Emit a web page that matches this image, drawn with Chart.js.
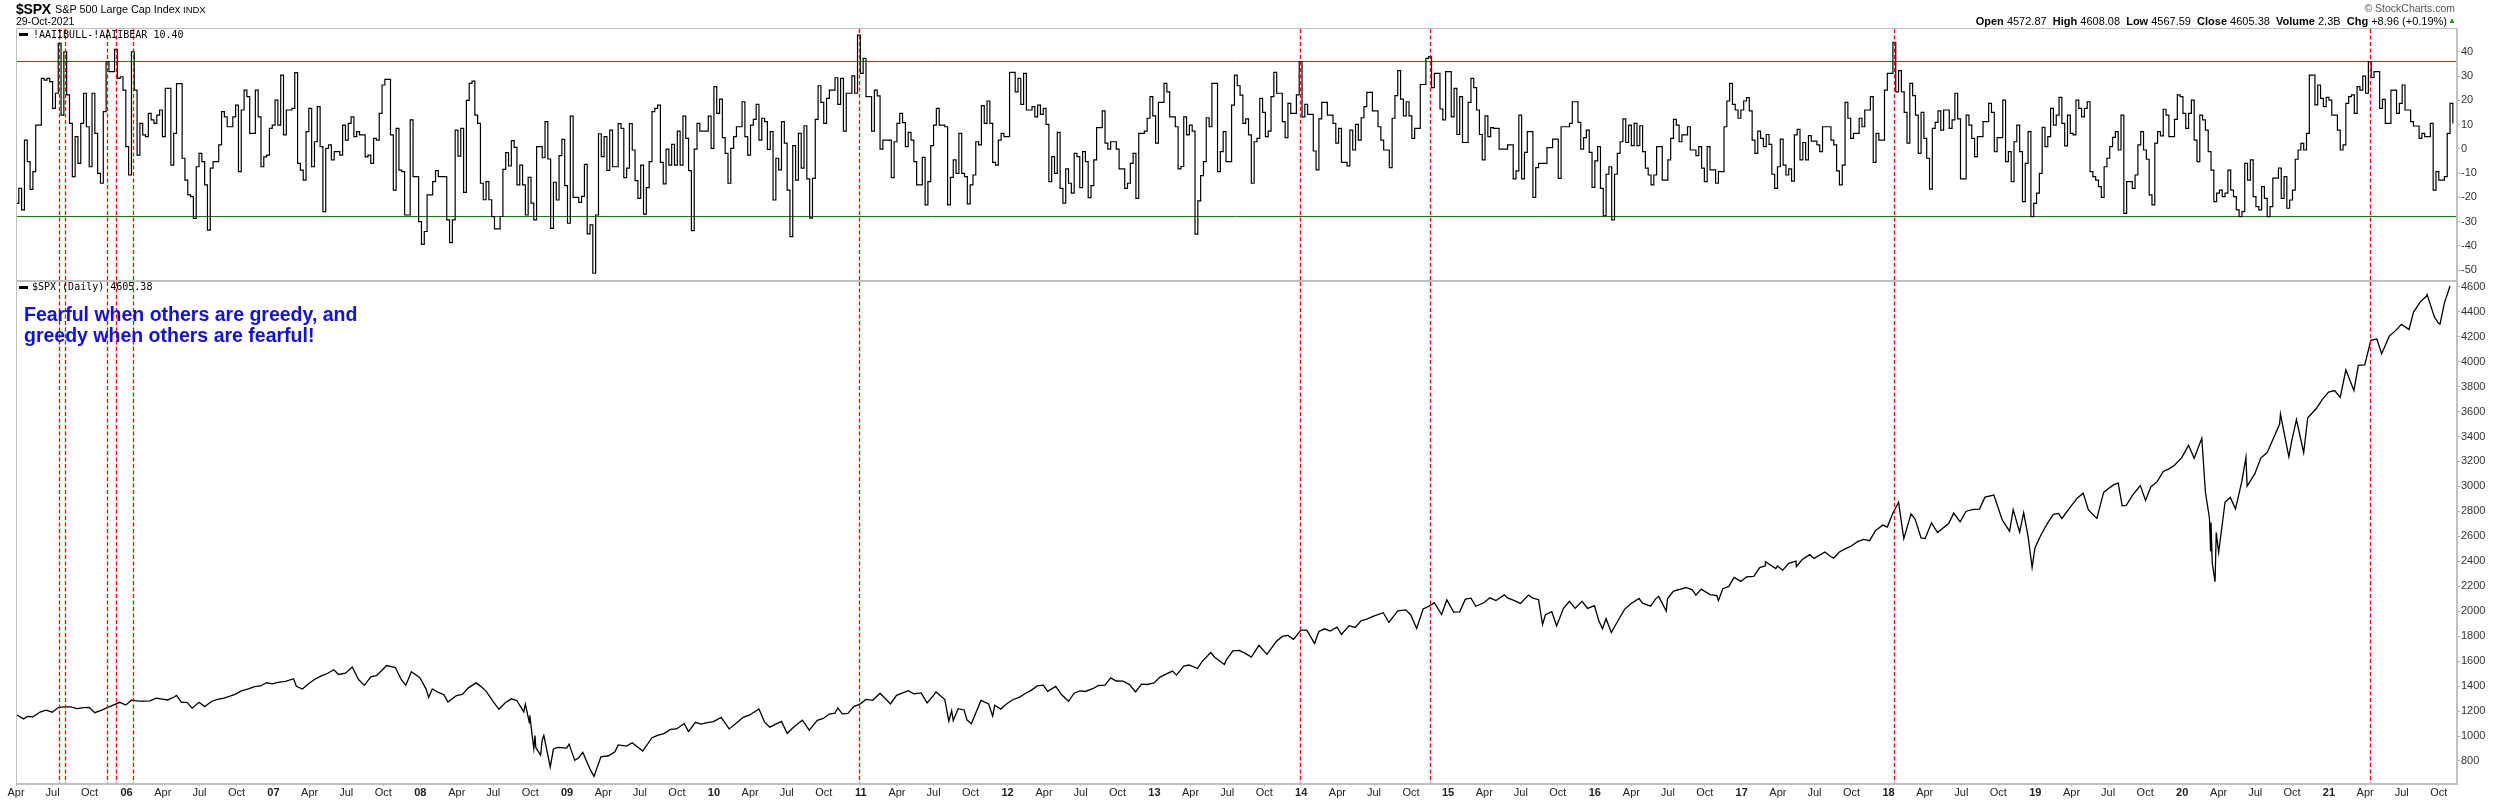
<!DOCTYPE html>
<html><head><meta charset="utf-8">
<script src="https://cdn.jsdelivr.net/npm/chart.js"></script>
<style>
html,body{margin:0;padding:0;background:#fff}
#wrap{position:relative;width:2500px;height:800px;overflow:hidden;font-family:"Liberation Sans",Arial,sans-serif;color:#000;background:#fff}
canvas{position:absolute;left:0;top:0}
.t{position:absolute;white-space:nowrap;line-height:1}
.mono{font-family:"DejaVu Sans Mono",monospace;font-size:10px}
.mk{position:absolute;width:9px;height:3px;background:#000}
</style></head><body><div id="wrap">
<canvas id="cTop" width="2500" height="800"></canvas>
<canvas id="cMain" width="2500" height="800"></canvas>

<div class="t" style="left:16px;top:1.5px;font-size:14px;font-weight:bold;letter-spacing:-0.2px">$SPX</div>
<div class="t" style="left:55px;top:4.2px;font-size:10.8px">S&amp;P 500 Large Cap Index</div>
<div class="t" style="left:183px;top:5.3px;font-size:9.5px">INDX</div>
<div class="t" style="left:16px;top:16.4px;font-size:10.5px">29-Oct-2021</div>
<div class="t" style="right:45px;top:3.4px;font-size:10.5px;color:#555">&copy; StockCharts.com</div>
<div class="t" style="right:53px;top:15.7px;font-size:11px"><b>Open</b> 4572.87&nbsp; <b>High</b> 4608.08&nbsp; <b>Low</b> 4567.59&nbsp; <b>Close</b> 4605.38&nbsp; <b>Volume</b> 2.3B&nbsp; <b>Chg</b> +8.96 (+0.19%)</div>
<div class="t" style="left:2448px;top:17px;font-size:8px;color:#1a8a1a">&#9650;</div>

<div class="mk" style="left:19px;top:33px"></div>
<div class="t mono" style="left:33px;top:29.8px">!AAIIBULL-!AAIIBEAR 10.40</div>
<div class="mk" style="left:19px;top:286px"></div>
<div class="t mono" style="left:32px;top:282.2px">$SPX (Daily) 4605.38</div>

<div class="t" style="left:24px;top:304.5px;font-size:19.5px;font-weight:bold;color:rgb(16,16,224)">Fearful when others are greedy, and</div>
<div class="t" style="left:24px;top:326px;font-size:19.5px;font-weight:bold;color:rgb(16,16,224)">greedy when others are fearful!</div>
</div>
<script>
// ---------------- DATA ----------------
// AAII Bull-Bear spread, readings as [weeks since 2005-04-01, spread]
const aaii2005 = [[0,-22.5],[1,-16.3],[2,-25.2],[3,3.6],[4,-5.3],[5,-16.7],[6,-9.4],[7,9.8],[9,29],[10,28.3],[11,29],[12,27.7],[13,16.7],[14,22.9],[15,43.5],[16,13.9],[17,40],[18,22.2],[19,10.5],[20,-11.5],[21,5],[22,-6],[23,10.5],[24,22.9],[25,9.1],[26,-7.4],[27,22.9],[28,6.4],[29,-10.1],[30,-14.2],[31,15.3],[32,35.9],[33,31.8],[35,41],[36,29],[37,29.7],[38,24.2],[39,0.9],[40,-10.8],[41,40],[42,24.2],[43,-2.6],[44,10.5],[45,5.7],[46,5],[47,14.6],[48,11.9],[49,10.5],[50,13.9],[51,16],[52,5],[53,24.9],[55,-6.7],[56,6.4],[57,26.9],[59,-3.9],[60,-12.9],[61,-19],[62,-19.7],[63,-28.7],[64,-7.4],[65,-1.9],[66,-5.3],[67,-14.9],[68,-33.5],[69,-8],[70,-5.3],[72,1.6],[73,15.3],[74,13.2],[75,9.1],[77,13.2],[78,18],[79,-9.4],[80,16],[81,24.2],[82,21.5],[83,6.4],[85,24.2],[86,13.2],[87,-7.4],[88,-3.3],[89,-2.6],[90,8.4],[91,9.8],[92,20.1],[93,9.8],[94,30.4],[95,5.7],[96,16],[98,16.7],[99,31.4],[100,-6],[101,-8.8],[102,-12.9],[103,7.1],[104,16.7],[105,-7.4],[106,2.9],[107,17.4],[108,0.9],[109,-25.9],[110,0.2],[111,1.6],[112,-4.6],[113,-1.2],[115,-2.6],[116,9.8],[117,3.6],[118,10.5],[119,13.2],[120,5],[121,7.1],[122,5.7],[124,-3.3],[125,-2.6],[126,-6],[127,4.3],[128,3.6],[129,14.6],[130,26.3],[131,28.6],[133,5.7],[134,-17],[135,8.4],[136,-8.8],[137,-9.4],[138,-27.3],[140,11.9],[141,-11.5],[143,-30],[144,-39.4],[145,-34.1],[146,-19],[148,-13.5],[149,-9],[150,-11.5],[153,-29.3],[154,-38.7],[155,-29.3],[156,7.7],[157,-3],[158,8.4],[159,-18],[160,20],[161,27],[162,27.9],[163,13.9],[164,10.5],[165,-14.2],[166,-21],[167,-13.5],[168,-21],[169,-28],[170,-33]];
const aaii2008 = [[172,-27.9],[173,-8.5],[174,-1.6],[175,-7.1],[176,3.4],[177,0.6],[178,-14.9],[179,-6.7],[180,-14.9],[181,-27.3],[182,-11.8],[183,-22.4],[184,-29.3],[185,0.9],[187,-3.7],[188,11.2],[189,-4.2],[190,-32.8],[191,-13.8],[192,-21.1],[193,-2.8],[194,3.9],[195,-15.2],[196,-30.7],[197,13.5],[198,-20],[200,-22.1],[201,-19.6],[202,-6.4],[203,-35.1],[204,-31.4],[205,-51.3],[206,-27.3],[207,6.2],[208,-3.2],[209,5],[210,-8.9],[211,7.7],[212,-7.4],[214,10.4],[215,8.4],[216,-11.9],[217,-8],[218,10.4],[219,-0.5],[220,-13.1],[221,-20.4],[222,-6.7],[223,-26.9],[224,-16],[225,-5.3],[226,15.3],[227,16.7],[228,18],[229,-5.6],[230,-14.5],[231,-0.1],[232,-6.7],[233,1.8],[234,-6.7],[235,7.3],[236,-6.7],[237,13.5],[238,4.3],[239,-9],[240,-33.7],[241,-0.1],[242,10.5],[243,7.3],[246,13.5],[247,0.2],[248,25.6],[249,14.6],[250,20.5],[251,4.6],[252,-1.9],[253,-14.2],[254,0.2],[255,5],[256,9.1],[258,19.4],[259,5],[260,-2.6],[261,9.8],[262,12.1],[263,18.3],[264,3.6],[265,12.6],[266,11.2],[267,-0.2],[268,7.1],[269,-21.1],[270,-3.9],[271,-8.7],[272,11.2],[273,2.3],[274,-17],[275,-36.2],[276,1.3],[277,-12.9],[278,6.4],[279,-8],[280,9.5],[281,-12.4],[282,-28.6],[283,-12.2],[284,12.1],[285,26],[286,19.1],[287,10.5],[288,20.8],[289,24.2],[291,29.3],[292,18.3],[293,29],[294,7.3],[295,22.9],[297,30.1],[298,22.9],[299,46.9],[300,31.1],[301,37.3],[302,21.5],[304,7.3],[305,24.2],[306,21.8],[307,-0.1],[308,3.6],[311,-11.9],[312,2.9],[313,10.5],[314,14.6],[315,10.8],[316,0.9],[317,6.8],[318,3.6],[319,-5.3],[320,-14.9],[322,-3.5],[323,-23.1],[324,-13.5],[325,1.3],[326,9.8],[327,16.7],[328,9.8],[330,9.1],[331,-23.1],[332,-11.8],[333,-4.6],[334,-10.1],[335,6.4],[336,-10.1],[337,-11.5],[338,-22.7],[339,-14.9],[340,-10.8],[341,2.9],[342,1.6],[343,17.8],[344,10.5],[345,19.7],[346,10.5],[347,-5.6],[348,-6.7],[349,3.6]];
const aaii2011 = [[350,6.4],[351,5],[353,31.5],[355,23.5],[356,29],[357,18.3],[358,31.1],[359,16],[361,17.4],[362,13.2],[363,18],[364,14.2],[365,16.7],[366,10.1],[367,-13.5],[368,-3.2],[369,-10.1],[370,6.8],[371,-16.3],[372,-22.4],[373,-8.3],[374,-14.2],[375,-18.3],[376,-1.9],[377,-3.2],[378,-16],[379,-1.2],[380,-5.3],[381,-20.1],[382,-15.2],[383,-4.6],[384,8.7],[386,15.6],[387,2.3],[388,-0.1],[389,2.9],[391,-0.1],[392,-8.3],[394,-16.3],[395,-14.2],[396,-6],[397,-1.9],[398,-20.4],[399,6.4],[401,7.3],[402,12.6],[403,21.5],[404,13.6],[405,2.3],[406,19.1],[408,27],[409,23.5],[410,13.2],[412,9.1],[413,-8.3],[414,-7.3],[415,13.2],[416,5.7],[417,9.8],[418,7.3],[419,-35.2],[420,-21.5],[421,-11.1],[422,-5.3],[423,12.8],[424,9.1],[425,27],[427,-9.4],[428,-1.2],[429,7.1],[430,-5.3],[432,18],[433,30.4],[434,26],[435,22.1],[436,10.5],[437,12.3],[438,5.7],[439,-14.2],[440,2.9],[441,4.3],[442,20.8],[443,15],[444,5],[445,7.3],[446,21.5],[447,31.5],[448,22.9],[450,11.2],[451,4.6],[452,18.7],[453,14.6],[455,22.2],[456,35.9],[457,13.2],[458,18.3],[459,14.2],[461,-0.9],[462,-8.7],[463,12.3],[464,19.1],[466,13.9],[468,10.5],[469,2.3],[470,8.4],[471,-5.6],[473,-7],[474,7.7],[475,-0.5],[476,10.1],[477,3.6],[478,12.8],[479,17.4],[480,23.3],[482,15.6],[484,9.1],[485,3.6],[486,-0.5],[488,-7.8],[489,12.6],[490,21.9],[491,32.2],[492,20.5],[493,13.6],[494,19.4],[495,13.6],[496,4.3],[497,8.4],[499,26.5],[501,37.3],[502,38],[503,25.2],[504,31.1],[506,16.4],[507,11.9],[508,31.8],[510,13.2],[511,24.9],[512,5.9],[513,21.5],[514,2.6],[516,19.1],[517,29],[518,25.2],[519,16],[520,5.9],[521,-4.6],[522,13.6],[523,5],[524,8.7],[525,8.4],[527,-0.1]];
const aaii2015 = [[530,1.6],[532,-12.4],[533,-9.1],[534,13.9],[535,-12.4],[536,-1.5],[537,7.1],[539,-20],[540,-7.8],[541,-6],[544,0.5],[546,4],[548,-12.2],[549,9.1],[552,10.5],[553,19.4],[555,10.9],[556,-0.1],[557,4.6],[558,7.7],[559,-1.5],[560,-15.9],[561,-5],[562,0.9],[563,-16.3],[564,-27.6],[565,-10.5],[566,-7.4],[567,-29.3],[568,-10.5],[569,-1.9],[570,2.9],[571,12.3],[572,2.6],[573,9.8],[574,1.3],[575,10.5],[576,1.3],[577,9.5],[578,-1.2],[579,-8],[580,-10.8],[581,-14.9],[582,-10.8],[583,0.9],[585,-12.9],[587,-4.6],[588,4.3],[589,12.1],[590,9.8],[591,2.9],[592,5.7],[594,9.1],[595,-0.5],[597,-2.8],[598,0.9],[599,-8],[600,-13.5],[601,0.9],[602,-8.7],[604,-14.2],[605,-9.4],[607,9.1],[608,19.7],[609,27],[610,18.3],[611,16],[612,12.6],[613,16],[614,19.7],[615,21.1],[616,15.6],[617,3.6],[618,-1.9],[619,7.3],[620,4.3],[621,0.9],[622,5.9],[623,1.8],[624,-10.5],[625,-16.3],[626,-7.4],[627,4],[628,-6.7],[629,-10.8],[630,-8.3],[631,-13.3],[632,5.7],[633,8],[634,-4.6],[635,2.6],[636,-4.6],[637,5.4],[638,3.2],[640,1.6],[641,-1.2],[642,9.1],[645,3.6],[646,1.6],[647,-9.1],[648,-14.9],[649,-6.7],[650,19.1],[651,12.6],[652,4.3],[653,6.4],[655,12.6],[656,9.1],[657,16],[659,21.5],[660,-5.6],[661,6.4],[662,3.6],[664,24.2],[665,31.1],[667,43.9],[668,23.5],[669,32.2],[670,23.5],[671,15],[672,2.3],[673,27],[674,21.9],[675,13.9],[676,-1.9],[677,15],[678,4.3],[679,-3.9],[680,-16.6],[681,8.4],[682,10.9],[683,15.6],[684,7.7],[685,16],[687,8.4],[688,11.9],[689,22.9],[690,12.3],[691,-12.4],[693,13.9],[694,9.8],[695,4.3],[696,-3.2],[697,5],[699,11.2],[701,18.7],[702,15],[703,-1.2],[704,4.6]];
const aaii2018 = [[706,20.1],[707,-5.3],[708,-1.2],[709,-13.5],[710,2.9],[711,9.8],[712,-1.2],[713,-21.8],[714,-6],[715,7.1],[716,-28],[717,-22.5],[718,-18.3],[719,-10.1],[720,8.8],[721,0.9],[722,5],[723,16.7],[724,9.8],[725,13.9],[726,21.2],[727,10.5],[728,1.2],[729,13.9],[730,6.4],[731,5.7],[732,20.1],[733,16.7],[734,13.2],[735,16.7],[736,19.4],[737,-9.4],[738,-11.5],[739,-12.9],[740,-15.6],[741,-20],[742,-7.4],[743,-3.9],[744,0.9],[745,4.7],[746,7.1],[747,-0.5],[748,13.9],[749,-26.6],[750,-13.5],[752,-16.3],[753,-10.8],[754,1.6],[755,7.1],[756,-0.5],[757,-4.3],[758,-19],[759,-23.1],[760,2.3],[761,7.1],[762,5.3],[763,16.3],[764,13.9],[765,5],[767,12.1],[768,22.2],[769,21.5],[770,14.6],[771,8.4],[772,14.6],[773,20.1],[774,3.6],[775,-5.3],[776,13.9],[777,11.9],[778,7.7],[779,-1.2],[780,-8.8],[781,-21.8],[782,-18.3],[783,-17],[784,-19.7],[785,-18.3],[786,-8.8],[787,-17],[788,-19.7],[789,-25.2],[790,-28],[791,-25.9],[792,-6],[793,-12.9],[794,-4.6],[795,-19.7],[796,-23.8],[797,-25.2],[798,-15.6],[799,-20.4],[800,-28],[801,-23.8],[802,-12.1],[804,-8],[805,-20.4],[806,-11.5],[807,-24.5],[808,-21.1],[809,-17],[810,-4.3],[811,-0.5],[812,2.2],[813,-0.5],[814,6.4],[815,30.4],[817,18.1],[818,26.3],[819,20.8],[820,17.4],[821,21.2],[822,20.1],[823,13.9],[825,7.7],[826,-0.5],[827,1.6],[828,18.7],[829,21.5],[830,22.2],[831,14.6],[832,25.6],[833,24.2],[834,30],[835,22.9],[836,35.9],[837,29.4],[838,31.8],[840,16.7],[841,20.4],[842,10.5],[844,24.2],[846,14.6],[847,18.7],[848,26.3],[849,16],[851,11.2],[852,9.4],[854,4.3],[855,6.4],[856,5],[858,10.5],[859,-17],[860,-9.4],[861,-12.9],[863,-11.5],[864,6.4],[865,18.7],[866,10.4]];

// Weeks where the spread broke above the upper band (red dashed markers)
const signalWeeks = [15,17,32,35,41,299,456,502,667,836];
const upperBand = 36.0, lowerBand = -27.9;

// S&P 500 closes [date, value]
const spx2005_08 = [['2005-04-01',1172],['2005-04-20',1137],['2005-04-29',1157],['2005-05-13',1154],['2005-05-31',1192],['2005-06-15',1207],['2005-06-30',1191],['2005-07-15',1228],['2005-07-29',1234],['2005-08-15',1233],['2005-08-31',1220],['2005-09-15',1228],['2005-09-30',1229],['2005-10-14',1187],['2005-10-31',1207],['2005-11-15',1229],['2005-11-30',1249],['2005-12-15',1270],['2005-12-30',1248],
['2006-01-13',1287],['2006-01-31',1280],['2006-02-15',1280],['2006-02-28',1281],['2006-03-15',1303],['2006-03-31',1295],['2006-04-13',1289],['2006-04-28',1311],['2006-05-05',1325],['2006-05-17',1270],['2006-05-31',1270],['2006-06-13',1223],['2006-06-30',1270],['2006-07-14',1236],['2006-07-31',1277],['2006-08-15',1293],['2006-08-31',1304],['2006-09-15',1319],['2006-09-29',1336],['2006-10-13',1362],['2006-10-31',1378],['2006-11-15',1396],['2006-11-30',1401],['2006-12-15',1427],['2006-12-29',1418],
['2007-01-12',1430],['2007-01-31',1438],['2007-02-20',1459],['2007-02-27',1399],['2007-03-14',1377],['2007-03-30',1421],['2007-04-13',1453],['2007-04-30',1482],['2007-05-15',1501],['2007-05-31',1531],['2007-06-12',1493],['2007-06-29',1503],['2007-07-16',1553],['2007-07-31',1455],['2007-08-15',1406],['2007-08-31',1474],['2007-09-14',1484],['2007-09-28',1527],['2007-10-09',1565],['2007-10-31',1549],['2007-11-15',1451],['2007-11-26',1407],['2007-12-10',1515],['2007-12-31',1468]];
const spx2008_12 = [['2008-01-15',1380],['2008-01-22',1310],['2008-01-31',1378],['2008-02-15',1349],['2008-02-29',1331],['2008-03-10',1273],['2008-03-31',1323],['2008-04-15',1334],['2008-04-30',1386],['2008-05-19',1426],['2008-05-30',1400],['2008-06-13',1360],['2008-06-30',1280],['2008-07-15',1214],['2008-07-31',1267],['2008-08-15',1298],['2008-08-29',1283],['2008-09-15',1193],['2008-09-19',1255],['2008-09-29',1106],['2008-09-30',1166],['2008-10-10',899],['2008-10-13',1003],['2008-10-15',908],['2008-10-27',848],['2008-10-31',969],['2008-11-04',1005],['2008-11-20',752],['2008-11-28',896],['2008-12-08',909],['2008-12-31',903],
['2009-01-06',935],['2009-01-20',805],['2009-01-30',826],['2009-02-09',870],['2009-02-27',735],['2009-03-09',677],['2009-03-26',833],['2009-04-14',842],['2009-04-30',873],['2009-05-08',929],['2009-05-29',919],['2009-06-12',946],['2009-07-08',880],['2009-07-31',987],['2009-08-14',1005],['2009-08-31',1021],['2009-09-15',1053],['2009-09-30',1057],['2009-10-19',1098],['2009-10-30',1036],['2009-11-16',1110],['2009-11-30',1096],['2009-12-15',1107],['2009-12-31',1115],
['2010-01-19',1150],['2010-02-08',1057],['2010-02-26',1104],['2010-03-15',1150],['2010-03-31',1169],['2010-04-23',1217],['2010-05-07',1111],['2010-05-20',1071],['2010-05-31',1089],['2010-06-18',1117],['2010-07-02',1022],['2010-07-16',1065],['2010-07-30',1102],['2010-08-09',1127],['2010-08-26',1047],['2010-09-15',1125],['2010-09-30',1141],['2010-10-15',1176],['2010-10-29',1183],['2010-11-05',1225],['2010-11-16',1178],['2010-11-30',1181],['2010-12-15',1236],['2010-12-31',1258],
['2011-01-14',1293],['2011-01-31',1286],['2011-02-18',1343],['2011-03-16',1257],['2011-03-31',1326],['2011-04-29',1364],['2011-05-13',1338],['2011-05-31',1345],['2011-06-15',1266],['2011-06-30',1321],['2011-07-07',1353],['2011-07-29',1292],['2011-08-08',1119],['2011-08-15',1204],['2011-08-19',1124],['2011-08-31',1219],['2011-09-15',1209],['2011-09-22',1130],['2011-10-03',1099],['2011-10-27',1285],['2011-11-15',1257],['2011-11-25',1159],['2011-11-30',1247],['2011-12-15',1216],['2011-12-30',1258],
['2012-01-13',1289],['2012-01-31',1312],['2012-02-15',1343],['2012-02-29',1366],['2012-03-15',1402],['2012-03-30',1408],['2012-04-10',1358],['2012-04-30',1398],['2012-05-15',1330],['2012-06-01',1278],['2012-06-15',1343],['2012-06-29',1362],['2012-07-13',1357],['2012-07-31',1379],['2012-08-15',1405],['2012-08-31',1407],['2012-09-14',1466],['2012-09-28',1441],['2012-10-15',1440],['2012-10-31',1412],['2012-11-15',1353],['2012-11-30',1416],['2012-12-14',1413],['2012-12-31',1426]];
const spx2013_17 = [['2013-01-15',1472],['2013-01-31',1498],['2013-02-15',1520],['2013-02-25',1488],['2013-03-15',1560],['2013-03-28',1569],['2013-04-18',1541],['2013-04-30',1598],['2013-05-21',1669],['2013-05-31',1631],['2013-06-24',1573],['2013-06-28',1606],['2013-07-15',1682],['2013-07-31',1686],['2013-08-15',1662],['2013-08-30',1633],['2013-09-18',1726],['2013-09-30',1682],['2013-10-08',1655],['2013-10-31',1757],['2013-11-15',1798],['2013-11-29',1806],['2013-12-13',1775],['2013-12-31',1848],
['2014-01-15',1848],['2014-02-03',1742],['2014-02-14',1838],['2014-02-28',1859],['2014-03-14',1841],['2014-03-31',1872],['2014-04-11',1815],['2014-04-30',1884],['2014-05-15',1870],['2014-05-30',1924],['2014-06-13',1937],['2014-06-30',1960],['2014-07-24',1988],['2014-08-07',1910],['2014-08-29',2003],['2014-09-18',2011],['2014-09-30',1972],['2014-10-15',1862],['2014-10-31',2018],['2014-11-14',2039],['2014-11-28',2068],['2014-12-16',1973],['2014-12-29',2091],
['2015-01-15',1993],['2015-01-30',1995],['2015-02-13',2097],['2015-02-27',2105],['2015-03-11',2040],['2015-03-31',2068],['2015-04-15',2107],['2015-04-30',2086],['2015-05-21',2131],['2015-05-29',2107],['2015-06-15',2085],['2015-06-30',2063],['2015-07-20',2129],['2015-07-31',2104],['2015-08-14',2092],['2015-08-24',1893],['2015-08-31',1972],['2015-09-16',1996],['2015-09-28',1882],['2015-10-15',2024],['2015-10-30',2079],['2015-11-13',2023],['2015-11-30',2080],['2015-12-14',2022],['2015-12-31',2044],
['2016-01-11',1923],['2016-01-20',1859],['2016-01-29',1940],['2016-02-11',1829],['2016-02-29',1932],['2016-03-15',2015],['2016-03-31',2060],['2016-04-20',2102],['2016-04-29',2065],['2016-05-19',2040],['2016-05-31',2097],['2016-06-08',2119],['2016-06-27',2001],['2016-06-30',2099],['2016-07-15',2162],['2016-07-29',2174],['2016-08-15',2190],['2016-08-31',2171],['2016-09-09',2128],['2016-09-22',2177],['2016-10-14',2133],['2016-10-31',2126],['2016-11-04',2085],['2016-11-15',2180],['2016-11-30',2199],['2016-12-13',2271],['2016-12-30',2239],
['2017-01-13',2275],['2017-01-31',2279],['2017-02-15',2349],['2017-02-28',2364],['2017-03-01',2396],['2017-03-27',2342],['2017-03-31',2363],['2017-04-13',2329],['2017-04-28',2384],['2017-05-16',2401],['2017-05-17',2357],['2017-05-31',2412],['2017-06-19',2453],['2017-06-30',2423],['2017-07-27',2475],['2017-08-10',2438],['2017-08-18',2425],['2017-08-31',2472],['2017-09-15',2500],['2017-09-29',2519],['2017-10-16',2557],['2017-10-31',2575],['2017-11-15',2565],['2017-11-30',2648],['2017-12-18',2690],['2017-12-29',2674]];
const spx2018_21 = [['2018-01-12',2786],['2018-01-26',2873],['2018-02-08',2581],['2018-02-26',2780],['2018-03-08',2739],['2018-03-23',2588],['2018-04-02',2582],['2018-04-18',2708],['2018-05-03',2630],['2018-05-31',2705],['2018-06-12',2786],['2018-06-28',2716],['2018-07-13',2801],['2018-07-31',2816],['2018-08-15',2818],['2018-08-29',2914],['2018-09-20',2931],['2018-10-11',2729],['2018-10-29',2641],['2018-11-07',2814],['2018-11-23',2633],['2018-12-03',2790],['2018-12-14',2600],['2018-12-24',2351],['2018-12-31',2507],
['2019-01-15',2611],['2019-01-31',2704],['2019-02-15',2776],['2019-02-28',2784],['2019-03-08',2743],['2019-03-29',2834],['2019-04-15',2906],['2019-04-30',2946],['2019-05-13',2812],['2019-05-31',2752],['2019-06-03',2744],['2019-06-20',2954],['2019-07-15',3014],['2019-07-26',3026],['2019-08-05',2845],['2019-08-15',2848],['2019-08-30',2926],['2019-09-19',3006],['2019-10-02',2888],['2019-10-15',2996],['2019-10-31',3038],['2019-11-15',3120],['2019-11-29',3141],['2019-12-13',3169],['2019-12-31',3231],
['2020-01-17',3330],['2020-01-31',3226],['2020-02-19',3386],['2020-02-28',2954],['2020-03-09',2747],['2020-03-12',2481],['2020-03-13',2711],['2020-03-16',2386],['2020-03-23',2237],['2020-03-26',2631],['2020-04-01',2470],['2020-04-17',2875],['2020-04-30',2912],['2020-05-13',2820],['2020-05-29',3044],['2020-06-08',3232],['2020-06-11',3002],['2020-06-30',3100],['2020-07-15',3227],['2020-07-31',3271],['2020-08-14',3373],['2020-08-31',3500],['2020-09-02',3580],['2020-09-23',3237],['2020-09-30',3363],['2020-10-12',3535],['2020-10-30',3270],['2020-11-09',3550],['2020-11-30',3622],['2020-12-15',3695],['2020-12-31',3756],
['2021-01-15',3768],['2021-01-29',3714],['2021-02-12',3934],['2021-03-04',3768],['2021-03-15',3969],['2021-03-31',3973],['2021-04-15',4170],['2021-04-30',4181],['2021-05-12',4063],['2021-05-31',4204],['2021-06-15',4246],['2021-06-30',4298],['2021-07-19',4258],['2021-07-30',4395],['2021-08-16',4479],['2021-08-31',4523],['2021-09-02',4537],['2021-09-20',4358],['2021-09-30',4308],['2021-10-04',4300],['2021-10-15',4471],['2021-10-29',4605]];

// Axis ticks / labels
const xTickLabels = ['Apr','Jul','Oct','06','Apr','Jul','Oct','07','Apr','Jul','Oct','08','Apr','Jul','Oct','09','Apr','Jul','Oct','10','Apr','Jul','Oct','11','Apr','Jul','Oct','12','Apr','Jul','Oct','13','Apr','Jul','Oct','14','Apr','Jul','Oct','15','Apr','Jul','Oct','16','Apr','Jul','Oct','17','Apr','Jul','Oct','18','Apr','Jul','Oct','19','Apr','Jul','Oct','20','Apr','Jul','Oct','21','Apr','Jul','Oct'];
const topTicks = [40,30,20,10,0,-10,-20,-30,-40,-50];
const mainTicks = [4600,4400,4200,4000,3800,3600,3400,3200,3000,2800,2600,2400,2200,2000,1800,1600,1400,1200,1000,800];

// ---------------- HELPERS ----------------
const BASE = Date.UTC(2005,3,1);
function dateToYear(ms){ const d=new Date(ms); const y=d.getUTCFullYear(); const s=Date.UTC(y,0,1), e=Date.UTC(y+1,0,1); return y+(ms-s)/(e-s); }
function weekToYear(w){ return dateToYear(BASE + w*7*86400000); }
function isoToYear(s){ const [y,m,d]=s.split('-').map(Number); return dateToYear(Date.UTC(y,m-1,d)); }
const xMin = weekToYear(0), xMax = 2021.872;
const xTickValues = xTickLabels.map((_,i)=>dateToYear(Date.UTC(2005,3+3*i,1)));

const aaiiPts = [...aaii2005,...aaii2008,...aaii2011,...aaii2015,...aaii2018].map(([w,v])=>({x:weekToYear(w),y:v}));
const spxPts = [...spx2005_08,...spx2008_12,...spx2013_17,...spx2018_21].map(([d,v])=>({x:isoToYear(d),y:v}));

const FONT = 'Liberation Sans, Arial, sans-serif';

const framePlugin = { id:'frame', afterDraw(chart){
  const {ctx, chartArea:a} = chart; ctx.save(); ctx.strokeStyle='#c0c0c0'; ctx.lineWidth=1;
  ctx.strokeRect(a.left+0.5, a.top+0.5, a.right-a.left-1, a.bottom-a.top-1); ctx.restore(); } };
const signalPlugin = { id:'signals', afterDatasetsDraw(chart){
  const {ctx, chartArea:a, scales:{x}} = chart; ctx.save(); ctx.strokeStyle='#ff0000'; ctx.lineWidth=1.3; ctx.setLineDash([4,2.5]);
  signalWeeks.forEach(w=>{ const px=Math.round(x.getPixelForValue(weekToYear(w+0.4)))+0.5; ctx.beginPath(); ctx.moveTo(px,a.top+1); ctx.lineTo(px,a.bottom); ctx.stroke(); });
  ctx.restore(); } };

function yAxis(min,max,ticks){ return { position:'right', min, max,
  afterBuildTicks:s=>{ s.ticks = ticks.map(v=>({value:v})); },
  afterFit:s=>{ s.width = 43; },
  grid:{ drawOnChartArea:false, drawTicks:true, tickLength:3, color:'#b0b0b0' },
  border:{ display:true, color:'#c0c0c0' },
  ticks:{ color:'#333', padding:1, font:{family:FONT,size:11}, callback:v=>String(v) } }; }

const common = { responsive:false, animation:false, devicePixelRatio:1, events:[],
  plugins:{ legend:{display:false}, tooltip:{enabled:false} } };

new Chart(document.getElementById('cTop'), {
  type:'line',
  data:{ datasets:[
    { data:aaiiPts, borderColor:'#000', borderWidth:1.2, pointRadius:0, stepped:true, order:0 },
    { data:[{x:xMin,y:upperBand},{x:xMax,y:upperBand}], borderColor:'#ff0000', borderWidth:1, pointRadius:0, order:1 },
    { data:[{x:xMin,y:lowerBand},{x:xMax,y:lowerBand}], borderColor:'#008000', borderWidth:1, pointRadius:0, order:1 } ]},
  options:{ ...common, layout:{ padding:{left:16, top:28, right:0, bottom:519} },
    scales:{ x:{ type:'linear', min:xMin, max:xMax, display:false }, y:yAxis(-54.5,49.8,topTicks) } },
  plugins:[framePlugin, signalPlugin]
});

new Chart(document.getElementById('cMain'), {
  type:'line',
  data:{ datasets:[ { data:spxPts, borderColor:'#000', borderWidth:1.3, pointRadius:0, tension:0 } ]},
  options:{ ...common, layout:{ padding:{left:16, top:281, right:0, bottom:0} },
    scales:{
      x:{ type:'linear', position:'bottom', min:xMin, max:xMax,
        afterBuildTicks:s=>{ s.ticks = xTickValues.map(v=>({value:v})); },
        afterFit:s=>{ s.height = 16; },
        grid:{ drawOnChartArea:false, drawTicks:true, tickLength:2, color:'#b0b0b0' },
        border:{ display:true, color:'#c0c0c0' },
        ticks:{ autoSkip:false, maxRotation:0, minRotation:0, padding:0, color:'#222',
          callback:(v,i)=>xTickLabels[i],
          font:c=>({ family:FONT, size:11, weight: /^\d/.test(xTickLabels[c.index]||'') ? 'bold' : 'normal' }) } },
      y:yAxis(615.7,4645.7,mainTicks) } },
  plugins:[framePlugin, signalPlugin]
});
</script>
</body></html>
